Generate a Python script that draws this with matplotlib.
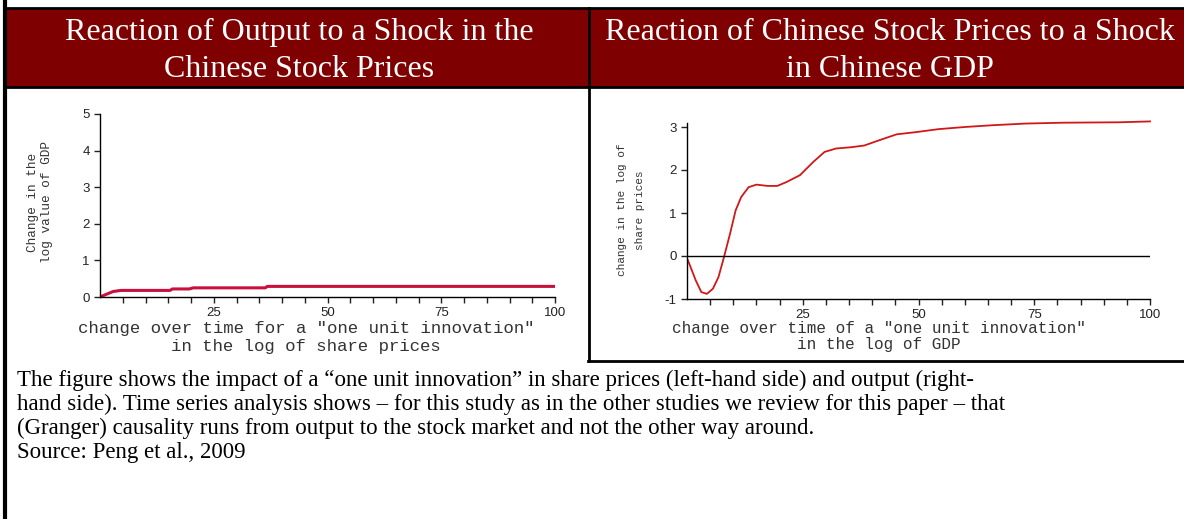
import numpy as np
import matplotlib
matplotlib.use('Agg')
import matplotlib.pyplot as plt
from matplotlib.lines import Line2D
from matplotlib.patches import Rectangle

# left panel: response of output to a shock in share prices
left_x = [0, 1.7, 2.9, 4.6, 8, 15.4, 15.9, 19.6, 20.5, 36.3, 36.8, 100]
left_y = [0, 0.09, 0.15, 0.18, 0.18, 0.18, 0.22, 0.22, 0.25, 0.25, 0.29, 0.29]

# right panel: response of share prices to a shock in GDP
right_x = [0.2, 1.9, 3.1, 4.3, 5.6, 6.8, 8.0, 9.3, 10.5, 11.7, 13.3, 15.0, 17.4,
           19.5, 21.5, 24.4, 27.3, 29.7, 32.2, 35.5, 38.3, 42.0, 45.3, 49.4, 54.3,
           60.0, 65.8, 73.1, 81.3, 93.6, 100]
right_y = [-0.1, -0.57, -0.84, -0.88, -0.76, -0.49, -0.02, 0.52, 1.06, 1.37, 1.6,
           1.66, 1.63, 1.63, 1.72, 1.88, 2.19, 2.42, 2.5, 2.53, 2.57, 2.71, 2.83,
           2.88, 2.95, 3.0, 3.04, 3.08, 3.1, 3.11, 3.13]

left_title = ['Reaction of Output to a Shock in the', 'Chinese Stock Prices']
right_title = ['Reaction of Chinese Stock Prices to a Shock', 'in Chinese GDP']
left_xlabel = ['change over time for a "one unit innovation"', 'in the log of share prices']
right_xlabel = ['change over time of a "one unit innovation"', 'in the log of GDP']
left_ylabel = ['Change in the', 'log value of GDP']
right_ylabel = ['change in the log of', 'share prices']
caption = ['The figure shows the impact of a \u201cone unit innovation\u201d in share prices (left-hand side) and output (right-',
           'hand side). Time series analysis shows \u2013 for this study as in the other studies we review for this paper \u2013 that',
           '(Granger) causality runs from output to the stock market and not the other way around.',
           'Source: Peng et al., 2009']

W, H = 1184, 519
fig = plt.figure(figsize=(W / 100, H / 100), dpi=100)


def fx(x):
    return x / W


def fy(y):
    return 1 - y / H


def hline(x0, x1, y, lw=2):
    fig.add_artist(Line2D([fx(x0), fx(x1)], [fy(y), fy(y)], color='black', lw=lw))


def vline(x, y0, y1, lw=2):
    fig.add_artist(Line2D([fx(x), fx(x)], [fy(y0), fy(y1)], color='black', lw=lw))


# header band and table rules
fig.add_artist(Rectangle((fx(6), fy(87)), fx(W) - fx(6), fy(8) - fy(87), color='#7f0000', lw=0))
hline(6, W, 8)
hline(6, W, 87)
vline(4.5, 0, H, lw=3)
vline(588.5, 8, 361)
hline(588, W, 361)

serif = 'Liberation Serif'
mono = 'Liberation Mono'
sans = 'Liberation Sans'

for i, (a, b) in enumerate(zip(left_title, right_title)):
    y = 40 + 37 * i
    fig.text(fx(299), fy(y), a, color='white', family=serif, fontsize=23,
             ha='center', va='baseline')
    fig.text(fx(890), fy(y), b, color='white', family=serif, fontsize=23,
             ha='center', va='baseline')

for i, line in enumerate(caption):
    fig.text(fx(17), fy(386 + 24 * i), line, family=serif, fontsize=16.5,
             ha='left', va='baseline')

# axis labels placed as free text
for i, (a, b) in enumerate(zip(left_xlabel, right_xlabel)):
    fig.text(fx(306), fy(329 + 17 * i), a, family=mono, fontsize=12.5,
             color='#333333', ha='center', va='center')
    fig.text(fx(879), fy(329 + 15 * i), b, family=mono, fontsize=11.5,
             color='#333333', ha='center', va='center')

fig.text(fx(33), fy(202), left_ylabel[0], family=mono, fontsize=9.2, color='#333333',
         rotation=90, ha='center', va='center')
fig.text(fx(47), fy(202), left_ylabel[1], family=mono, fontsize=9.2, color='#333333',
         rotation=90, ha='center', va='center')
fig.text(fx(622), fy(210), right_ylabel[0], family=mono, fontsize=8, color='#333333',
         rotation=90, ha='center', va='center')
fig.text(fx(640), fy(210), right_ylabel[1], family=mono, fontsize=8, color='#333333',
         rotation=90, ha='center', va='center')


def style(ax):
    for s in ['top', 'right']:
        ax.spines[s].set_visible(False)
    ax.spines['left'].set_linewidth(1)
    ax.spines['bottom'].set_linewidth(1)
    ax.set_xlim(0, 100)
    ax.set_xticks(np.arange(5, 101, 5))
    ax.set_xticklabels(['' if t % 25 else str(t) for t in range(5, 101, 5)], family=sans)
    ax.tick_params(labelsize=9.5, colors='#222222', length=4, width=1)
    for lab in ax.get_yticklabels():
        lab.set_family(sans)


# left chart
ax1 = fig.add_axes([fx(100), fy(297), fx(555) - fx(100), fy(114) - fy(297)])
ax1.plot(left_x, left_y, color='#c8103c', lw=2.2)
ax1.set_ylim(0, 5)
ax1.set_yticks(range(0, 6))
style(ax1)

# right chart (y: -1 at px 299, 43 px per unit)
top = 3.1
ax2 = fig.add_axes([fx(687), fy(299), fx(1150) - fx(687), (4.1 * 43) / H])
ax2.plot(right_x, right_y, color='#d01818', lw=1.3, clip_on=False)
ax2.axhline(0, color='black', lw=1)
ax2.set_ylim(-1, top)
ax2.set_yticks(range(-1, 4))
ax2.set_yticklabels(['-1', '0', '1', '2', '3'])
style(ax2)

fig.savefig('out.png', dpi=100)
